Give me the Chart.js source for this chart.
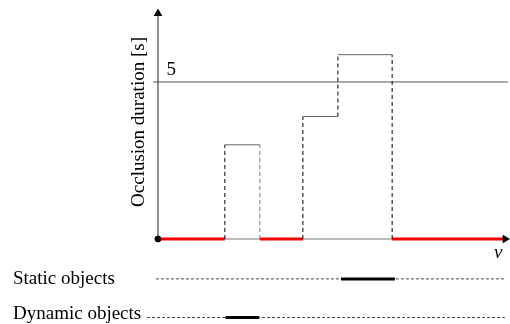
<!DOCTYPE html>
<html>
<head>
<meta charset="utf-8">
<script src="https://cdn.jsdelivr.net/npm/chart.js@4"></script>
<style>
  html, body { margin: 0; padding: 0; background: #fff; }
  canvas { display: block; }
</style>
</head>
<body>
<canvas id="occ" width="510" height="324"></canvas>
<script>
// interval edges along v, and occlusion duration for each interval
const edgesV = [0, 1.91, 2.91, 4.14, 5.14, 6.69, 9.91];
const durations = [0, 3.0, 0, 3.9, 5.87, 0];
const threshold = 5;
const tickLabels = ['5'];
const rows = ['Static objects', 'Dynamic objects'];
const rowLevel = [-1.27, -2.5];
const rowStart = [-0.06, -0.31];
const rowBusy = [[5.23, 6.77], [1.93, 2.89]];

const line = (pts, extra) => Object.assign({
  data: pts, showLine: true, pointRadius: 0, borderColor: '#000', borderWidth: 1, clip: false
}, extra);

const datasets = [];

// zero-duration stretches in red, blocks outlined (tops solid, sides dashed)
edgesV.slice(0, -1).forEach((x0, i) => {
  const x1 = edgesV[i + 1], d = durations[i];
  if (d === 0) {
    datasets.push(line([{ x: x0, y: 0 }, { x: x1, y: 0 }], { borderColor: '#ff0000', borderWidth: 3, order: 1 }));
    return;
  }
  datasets.push(line([{ x: x0, y: d }, { x: x1, y: d }], { borderColor: '#666' }));
  const prev = durations[i - 1] || 0;
  datasets.push(line([{ x: x0, y: prev }, { x: x0, y: d }], { borderColor: '#000', borderDash: [4, 3] }));
  if (!durations[i + 1]) {
    datasets.push(line([{ x: x1, y: 0 }, { x: x1, y: d }], { borderColor: i === 1 ? '#777' : '#000', borderDash: [4, 3] }));
  }
});

// axes
datasets.push(line([{ x: 0, y: 0 }, { x: 9.95, y: 0 }], { borderColor: '#777', order: 2 }));
datasets.push(line([{ x: 0, y: 0 }, { x: 0, y: 7.2 }], { borderColor: '#222' }));
datasets.push({ data: [{ x: 0, y: 7.18 }], pointStyle: 'triangle', pointRadius: 5, backgroundColor: '#000', borderColor: '#000', borderWidth: 0, clip: false });
datasets.push({ data: [{ x: 9.92, y: 0 }], pointStyle: 'triangle', rotation: 90, pointRadius: 5, backgroundColor: '#000', borderColor: '#000', borderWidth: 0, clip: false });
datasets.push({ data: [{ x: 0, y: 0 }], pointRadius: 3, backgroundColor: '#000', borderColor: '#000', clip: false });

// threshold
datasets.push(line([{ x: -0.14, y: threshold }, { x: 10.0, y: threshold }], { borderColor: '#555' }));

// object rows: dashed track behind, busy stretch on top
rows.forEach((r, i) => {
  datasets.push(line([{ x: rowStart[i], y: rowLevel[i] }, { x: 9.91, y: rowLevel[i] }], { borderColor: '#444', borderDash: [3, 2], order: 3 }));
  datasets.push(line([{ x: rowBusy[i][0], y: rowLevel[i] }, { x: rowBusy[i][1], y: rowLevel[i] }], { borderColor: '#000', borderWidth: 3, order: 0 }));
});

const labels = {
  id: 'labels',
  afterDatasetsDraw(chart) {
    const { ctx, scales: { x, y } } = chart;
    ctx.save();
    ctx.fillStyle = '#000';
    ctx.font = '19px "Liberation Serif"';
    ctx.textBaseline = 'alphabetic';
    ctx.textAlign = 'left';
    ctx.fillText(tickLabels[0], x.getPixelForValue(0.24), y.getPixelForValue(threshold) - 7);
    rows.forEach((r, i) => ctx.fillText(r, 13, y.getPixelForValue(rowLevel[i]) + [5, 2][i]));
    ctx.font = 'italic 19px "Liberation Serif"';
    ctx.fillText('v', x.getPixelForValue(9.6), y.getPixelForValue(0) + 19);
    ctx.translate(139, 122);
    ctx.rotate(-Math.PI / 2);
    ctx.font = '19px "Liberation Serif"';
    ctx.textAlign = 'center';
    ctx.textBaseline = 'middle';
    ctx.fillText('Occlusion duration [s]', 0, 0);
    ctx.restore();
  }
};

new Chart(document.getElementById('occ'), {
  type: 'scatter',
  data: { datasets },
  options: {
    responsive: false,
    animation: false,
    devicePixelRatio: 1,
    layout: { padding: 0, autoPadding: false },
    plugins: { legend: { display: false }, tooltip: { enabled: false } },
    scales: {
      x: { type: 'linear', display: false, min: -4.514, max: 10.057 },
      y: { type: 'linear', display: false, min: -2.707, max: 7.611 }
    }
  },
  plugins: [labels]
});
</script>
</body>
</html>
